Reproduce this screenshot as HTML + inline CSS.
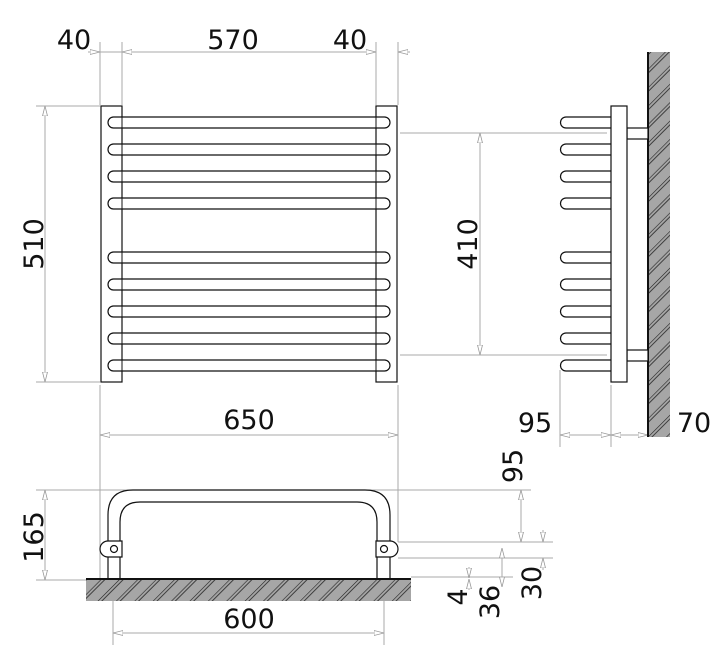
<!DOCTYPE html>
<html><head><meta charset="utf-8"><style>html,body{margin:0;padding:0;background:#fff}svg{display:block}</style></head>
<body>
<svg width="723" height="650" viewBox="0 0 723 650" xmlns="http://www.w3.org/2000/svg" font-family="'DejaVu Sans','Liberation Sans',sans-serif">
<defs>
<pattern id="h" patternUnits="userSpaceOnUse" width="13" height="13" patternTransform="rotate(45)">
<rect width="13" height="13" fill="#a6a6a6"/><line x1="0" y1="0" x2="0" y2="13" stroke="#222" stroke-width="1.2"/><line x1="3" y1="0" x2="3" y2="13" stroke="#222" stroke-width="0.8"/>
</pattern>
<marker id="a" markerWidth="10" markerHeight="6" refX="10" refY="3" orient="auto-start-reverse" markerUnits="userSpaceOnUse"><path d="M0,0.5 L10,3 L0,5.5 Z" fill="#fff" stroke="#999" stroke-width="0.8"/></marker>
</defs>
<g stroke="#aaa" stroke-width="1" fill="none">
<line x1="100" y1="42" x2="100" y2="105"/><line x1="122" y1="42" x2="122" y2="105"/>
<line x1="376" y1="42" x2="376" y2="105"/><line x1="398" y1="42" x2="398" y2="105"/>
<line x1="88" y1="52" x2="100" y2="52" marker-end="url(#a)"/>
<line x1="122" y1="52" x2="376" y2="52" marker-start="url(#a)" marker-end="url(#a)"/>
<line x1="398" y1="52" x2="410" y2="52" marker-start="url(#a)"/>
<line x1="100" y1="52" x2="122" y2="52"/>
<line x1="36" y1="106" x2="100" y2="106"/><line x1="36" y1="382" x2="100" y2="382"/>
<line x1="45" y1="106" x2="45" y2="382" marker-start="url(#a)" marker-end="url(#a)"/>
<line x1="400" y1="133" x2="607" y2="133"/><line x1="400" y1="355" x2="607" y2="355"/>
<line x1="480" y1="133" x2="480" y2="355" marker-start="url(#a)" marker-end="url(#a)"/>
<line x1="100" y1="385" x2="100" y2="580"/><line x1="398" y1="385" x2="398" y2="542"/>
<line x1="100" y1="435" x2="398" y2="435" marker-start="url(#a)" marker-end="url(#a)"/>
<line x1="560" y1="370" x2="560" y2="447"/><line x1="611" y1="385" x2="611" y2="447"/>
<line x1="560" y1="435" x2="611" y2="435" marker-start="url(#a)" marker-end="url(#a)"/>
<line x1="611" y1="435" x2="648" y2="435" marker-start="url(#a)" marker-end="url(#a)"/>
<line x1="36" y1="490" x2="531" y2="490"/><line x1="36" y1="580" x2="86" y2="580"/>
<line x1="45" y1="490" x2="45" y2="580" marker-start="url(#a)" marker-end="url(#a)"/>
<line x1="398" y1="542" x2="553" y2="542"/><line x1="398" y1="558" x2="553" y2="558"/>
<line x1="411" y1="577" x2="513" y2="577"/>
<line x1="521" y1="490" x2="521" y2="542" marker-start="url(#a)" marker-end="url(#a)"/>
<line x1="543" y1="530" x2="543" y2="542" marker-end="url(#a)"/><line x1="543" y1="570" x2="543" y2="558" marker-end="url(#a)"/>
<line x1="502" y1="548" x2="502" y2="587" marker-start="url(#a)" marker-end="url(#a)"/>
<line x1="469" y1="567" x2="469" y2="578" marker-end="url(#a)"/><line x1="469" y1="590" x2="469" y2="579" marker-end="url(#a)"/>
<line x1="113" y1="600" x2="113" y2="645"/><line x1="384" y1="600" x2="384" y2="645"/>
<line x1="113" y1="633" x2="384" y2="633" marker-start="url(#a)" marker-end="url(#a)"/>
</g>
<g stroke="#111" stroke-width="1.2" fill="#fff">
<rect x="101" y="106" width="21" height="276"/>
<rect x="376" y="106" width="21" height="276"/>
<rect x="108" y="117" width="282" height="11" rx="5.5"/>
<rect x="108" y="144" width="282" height="11" rx="5.5"/>
<rect x="108" y="171" width="282" height="11" rx="5.5"/>
<rect x="108" y="198" width="282" height="11" rx="5.5"/>
<rect x="108" y="252" width="282" height="11" rx="5.5"/>
<rect x="108" y="279" width="282" height="11" rx="5.5"/>
<rect x="108" y="306" width="282" height="11" rx="5.5"/>
<rect x="108" y="333" width="282" height="11" rx="5.5"/>
<rect x="108" y="360" width="282" height="11" rx="5.5"/>
</g>
<g stroke="#111" stroke-width="1" fill="none">
<line x1="122" y1="117" x2="122" y2="371"/><line x1="376" y1="117" x2="376" y2="371"/>
</g>
<rect x="648" y="52" width="22" height="385" fill="url(#h)"/>
<line x1="648" y1="52" x2="648" y2="437" stroke="#111" stroke-width="2"/>
<g stroke="#111" stroke-width="1.2" fill="#fff">
<path d="M611,117 H566 A5.5,5.5 0 0 0 566,128 H611"/>
<path d="M611,144 H566 A5.5,5.5 0 0 0 566,155 H611"/>
<path d="M611,171 H566 A5.5,5.5 0 0 0 566,182 H611"/>
<path d="M611,198 H566 A5.5,5.5 0 0 0 566,209 H611"/>
<path d="M611,252 H566 A5.5,5.5 0 0 0 566,263 H611"/>
<path d="M611,279 H566 A5.5,5.5 0 0 0 566,290 H611"/>
<path d="M611,306 H566 A5.5,5.5 0 0 0 566,317 H611"/>
<path d="M611,333 H566 A5.5,5.5 0 0 0 566,344 H611"/>
<path d="M611,360 H566 A5.5,5.5 0 0 0 566,371 H611"/>
<rect x="627" y="128" width="21" height="11"/>
<rect x="627" y="350" width="21" height="11"/>
<rect x="611" y="106" width="16" height="276"/>
</g>
<rect x="86" y="579" width="325" height="22" fill="url(#h)"/>
<line x1="86" y1="579" x2="411" y2="579" stroke="#111" stroke-width="2"/>
<g stroke="#111" stroke-width="1.2" fill="none">
<path d="M108,578 V515 Q108,490 133,490 H365 Q390,490 390,515 V578"/>
<path d="M120,578 V522 Q120,502 140,502 H357 Q377,502 377,522 V578"/>
</g>
<g stroke="#111" stroke-width="1.2" fill="#fff">
<path d="M122,541 H108 A8,8 0 0 0 108,557 H122 Z"/>
<circle cx="114" cy="549" r="3.5"/>
<path d="M376,541 H390 A8,8 0 0 1 390,557 H376 Z"/>
<circle cx="384" cy="549" r="3.5"/>
</g>
<g fill="#111" font-size="27">
<text x="74" y="49" text-anchor="middle">40</text>
<text x="233" y="49" text-anchor="middle">570</text>
<text x="350" y="49" text-anchor="middle">40</text>
<text x="249" y="429" text-anchor="middle">650</text>
<text x="535" y="432" text-anchor="middle">95</text>
<text x="694" y="432" text-anchor="middle">70</text>
<text x="249" y="628" text-anchor="middle">600</text>
<text transform="translate(43,244) rotate(-90)" text-anchor="middle">510</text>
<text transform="translate(477,244) rotate(-90)" text-anchor="middle">410</text>
<text transform="translate(43,537) rotate(-90)" text-anchor="middle">165</text>
<text transform="translate(522,466) rotate(-90)" text-anchor="middle">95</text>
<text transform="translate(541,583) rotate(-90)" text-anchor="middle">30</text>
<text transform="translate(499,602) rotate(-90)" text-anchor="middle">36</text>
<text transform="translate(467,597) rotate(-90)" text-anchor="middle">4</text>
</g>
</svg>
</body></html>
